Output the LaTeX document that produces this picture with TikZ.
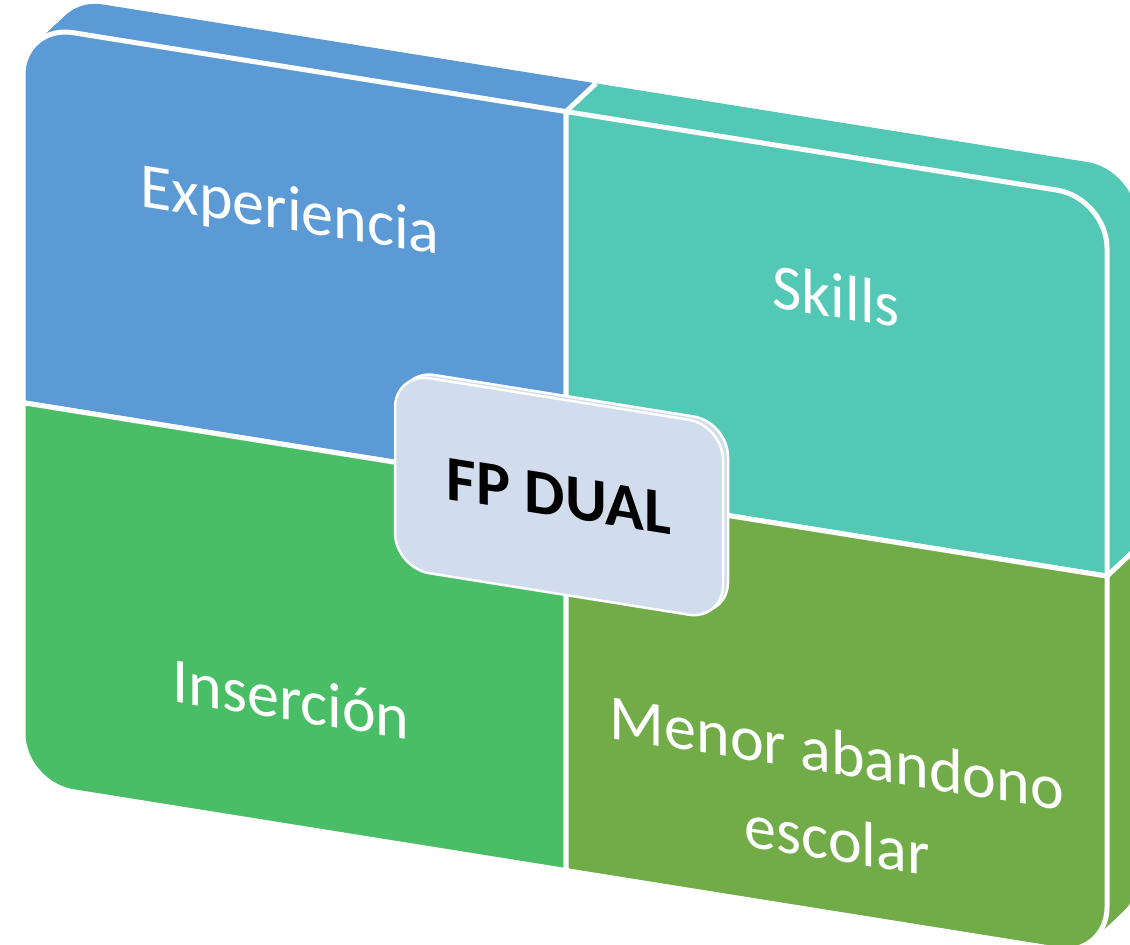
\documentclass[tikz,border=0pt]{standalone}
\usepackage{fontspec}
\setmainfont{Carlito}
\usepackage{tikz}

\definecolor{cuadAzul}{RGB}{91,154,212}
\definecolor{cuadTurquesa}{RGB}{83,200,181}
\definecolor{cuadVerde}{RGB}{74,190,103}
\definecolor{cuadOliva}{RGB}{114,172,72}
\definecolor{centroGris}{RGB}{209,221,236}

% las cuatro caras frontales (marco sin inclinar)
\newcommand{\caraSI}{(566,399) -- (23,399) -- (23,71) .. controls (23,43.4) and (45.4,21) .. (73,21) -- (566,21) -- cycle}
\newcommand{\caraSD}{(566,21) -- (1057,21) .. controls (1084.6,21) and (1107,43.4) .. (1107,71) -- (1107,399) -- (566,399) -- cycle}
\newcommand{\caraII}{(23,399) -- (566,399) -- (566,780) -- (73,780) .. controls (45.4,780) and (23,757.6) .. (23,730) -- cycle}
\newcommand{\caraID}{(566,399) -- (1107,399) -- (1107,730) .. controls (1107,757.6) and (1084.6,780) .. (1057,780) -- (566,780) -- cycle}

\begin{document}
\begin{tikzpicture}[
			x=1pt, y=-1pt,
			cara/.style={draw=white, line width=5pt, line join=round},
			caja/.style={draw=white, line width=2.5pt, fill=centroGris, rounded corners=35pt,
				minimum width=328pt, minimum height=195pt, inner sep=0pt, transform shape},
			etiqueta/.style={text=white, font=\fontsize{64}{87}\selectfont, align=center, transform shape}
			]
			\useasboundingbox (0,0) rectangle (1130,945);
			
			\begin{scope}[yslant=-0.16]
				% profundidad, de abajo hacia arriba
				\foreach \t in {0,0.04,...,1}
					\fill[cuadVerde, shift={(30*\t,-33*\t)}] \caraII;
				\foreach \t in {0,0.04,...,1}
					\fill[cuadOliva, shift={(30*\t,-33*\t)}] \caraID;
				\foreach \t in {0,0.04,...,1}
					\fill[cuadAzul, shift={(30*\t,-33*\t)}] \caraSI;
				\foreach \t in {0,0.04,...,1}
					\fill[cuadTurquesa, shift={(30*\t,-33*\t)}] \caraSD;
				\coordinate (arriba) at (566,21);
				\coordinate (derecha) at (1107,399);
				\draw[white, line width=5pt] (arriba) -- ++(30,-33);
				\draw[white, line width=5pt] (derecha) -- ++(30,-33);
				
				% caras frontales
				\path[cara, fill=cuadAzul] \caraSI;
				\path[cara, fill=cuadTurquesa] \caraSD;
				\path[cara, fill=cuadVerde] \caraII;
				\path[cara, fill=cuadOliva] \caraID;
				
				\node[etiqueta, anchor=base] (experiencia) at (290,184) {Experiencia};
				\node[etiqueta, anchor=base] (skills) at (836,184) {Skills};
				\node[etiqueta, anchor=base] (insercion) at (291,674) {Inserción};
				\node[etiqueta] (abandono) at (837,662) {Menor abandono\\escolar};
				
				% caja central
				\node[caja] (fondo) at (564,403) {};
				\node[caja, font=\fontsize{64}{70}\selectfont\bfseries] (fpdual) at (559,407) {FP DUAL};
			\end{scope}
		\end{tikzpicture}
\end{document}
